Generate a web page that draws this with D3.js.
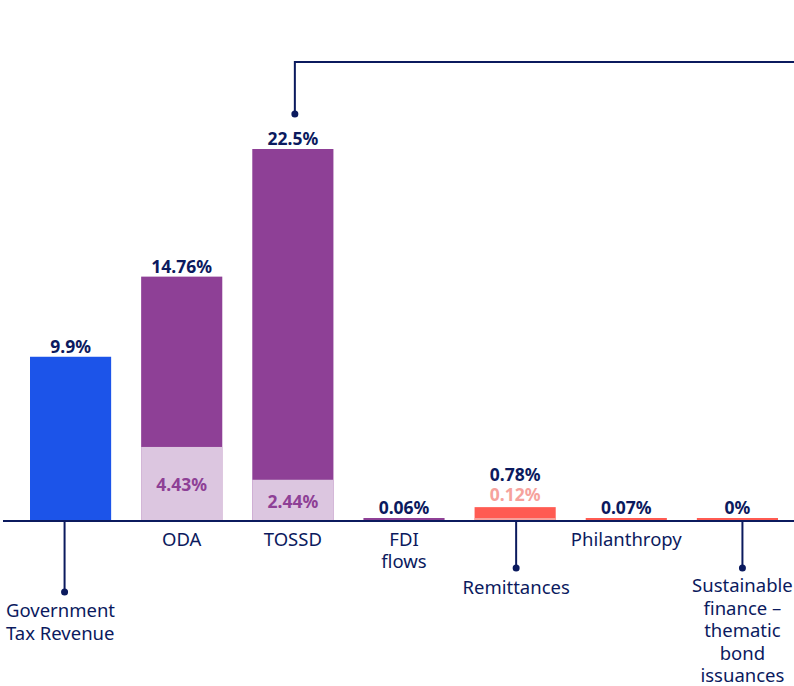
<!DOCTYPE html>
<html>
<head>
<meta charset="utf-8">
<script src="https://cdn.jsdelivr.net/npm/d3@7"></script>
<style>
  body { margin: 0; background: #fff; }
  svg { display: block; font-family: "Noto Sans", "Open Sans", sans-serif; }
</style>
</head>
<body>
<svg id="chart" width="794" height="686"></svg>
<script>
// data (share, %)
var categories = ["Government Tax Revenue", "ODA", "TOSSD", "FDI flows", "Remittances", "Philanthropy", "Sustainable finance – thematic bond issuances"];
var labelLines = [["Government", "Tax Revenue"], ["ODA"], ["TOSSD"], ["FDI", "flows"], ["Remittances"], ["Philanthropy"], ["Sustainable", "finance –", "thematic", "bond", "issuances"]];
var totals = [9.9, 14.76, 22.5, 0.06, 0.78, 0.07, 0];
var subValues = [null, 4.43, 2.44, null, 0.12, null, null];
var totalLabels = ["9.9%", "14.76%", "22.5%", "0.06%", "0.78%", "0.07%", "0%"];
var subLabels = [null, "4.43%", "2.44%", null, "0.12%", null, null];

var navy = "#0b1a5e";
var mainColor = ["#1c54e9", "#8e4096", "#8e4096", "#8e4096", "#ff5b52", "#ff5b52", "#ff5b52"];
var subColor = [null, "#dcc6e0", "#dcc6e0", null, "#f6a29c", null, null];
var subText = [null, "#8e4096", "#8e4096", null, "#f6a29c", null, null];

var svg = d3.select("#chart");
var baseY = 520;

var x = d3.scaleBand()
    .domain(categories)
    .range([15, 793])
    .paddingInner(0.27)
    .paddingOuter(0.135);

var y = d3.scaleLinear().domain([0, 22.5]).range([baseY, 149]);

function barTop(v) {
    // tiny values still get a visible sliver
    return Math.min(y(v), baseY - 2);
}

var rows = categories.map(function(c, i) {
    return {cat: c, total: totals[i], sub: subValues[i], i: i};
});

var g = svg.append("g");

// main bars
g.selectAll("rect.main")
    .data(rows).enter()
    .append("rect")
    .attr("class", "main")
    .attr("x", function(d) { return x(d.cat); })
    .attr("width", x.bandwidth())
    .attr("y", function(d) { return barTop(d.total); })
    .attr("height", function(d) { return baseY - barTop(d.total); })
    .style("fill", function(d) { return mainColor[d.i]; });

// lighter lower segments
var subRows = rows.filter(function(d) { return d.sub != null; });
g.selectAll("rect.sub")
    .data(subRows).enter()
    .append("rect")
    .attr("class", "sub")
    .attr("x", function(d) { return x(d.cat); })
    .attr("width", x.bandwidth())
    .attr("y", function(d) { return y(d.sub); })
    .attr("height", function(d) { return baseY - y(d.sub); })
    .style("fill", function(d) { return subColor[d.i]; });

// sub labels: inside segment when it is tall enough, else above bar
g.selectAll("text.sub")
    .data(subRows).enter()
    .append("text")
    .attr("class", "sub")
    .attr("x", function(d) { return x(d.cat) + x.bandwidth() / 2; })
    .attr("y", function(d) {
        var h = baseY - y(d.sub);
        if (h > 25) return (y(d.sub) + baseY) / 2 + 1;
        return barTop(d.total) - 6;
    })
    .attr("dominant-baseline", function(d) { return (baseY - y(d.sub)) > 25 ? "central" : "auto"; })
    .attr("text-anchor", "middle")
    .style("font-size", "17.5px")
    .style("font-weight", "bold")
    .style("fill", function(d) { return subText[d.i]; })
    .text(function(d) { return subLabels[d.i]; });

// total labels
g.selectAll("text.total")
    .data(rows).enter()
    .append("text")
    .attr("class", "total")
    .attr("x", function(d) { return x(d.cat) + x.bandwidth() / 2; })
    .attr("y", function(d) {
        var top = barTop(d.total);
        var subAbove = d.sub != null && (baseY - y(d.sub)) <= 25;
        return subAbove ? top - 26 : top - 4;
    })
    .attr("text-anchor", "middle")
    .style("font-size", "17.5px")
    .style("font-weight", "bold")
    .style("fill", navy)
    .text(function(d) { return totalLabels[d.i]; });

// axis line
svg.append("line")
    .attr("x1", 3).attr("x2", 794)
    .attr("y1", baseY + 1).attr("y2", baseY + 1)
    .attr("stroke", navy).attr("stroke-width", 2);

// category labels; some hang off a leader line
var leaders = {
    0: {dx: -6, dotY: 592, anchor: "start", textX: 6, firstY: 617},
    4: {dx: 1, dotY: 568, anchor: "middle", firstY: 594},
    6: {dx: 5, dotY: 568, anchor: "middle", firstY: 592}
};

rows.forEach(function(d) {
    var cx = x(d.cat) + x.bandwidth() / 2;
    var lead = leaders[d.i];
    var tx = cx, anchor = "middle", y0 = 546, step = 22;
    if (lead) {
        var lx = cx + lead.dx;
        svg.append("line")
            .attr("x1", lx).attr("x2", lx)
            .attr("y1", baseY + 1).attr("y2", lead.dotY)
            .attr("stroke", navy).attr("stroke-width", 2);
        svg.append("circle")
            .attr("cx", lx).attr("cy", lead.dotY).attr("r", 3.5)
            .style("fill", navy);
        tx = lead.textX != null ? lead.textX : lx;
        anchor = lead.anchor;
        y0 = lead.firstY;
        step = 22.6;
    }
    var t = svg.append("text")
        .attr("text-anchor", anchor)
        .style("font-size", "18.5px")
        .style("fill", navy);
    labelLines[d.i].forEach(function(line, k) {
        t.append("tspan").attr("x", tx).attr("y", y0 + k * step).text(line);
    });
});

// bracket from TOSSD going off to the right
var tx = x("TOSSD") + x.bandwidth() / 2 + 2;
svg.append("path")
    .attr("d", "M" + tx + ",114 V62 H794")
    .attr("fill", "none")
    .attr("stroke", navy).attr("stroke-width", 2);
svg.append("circle")
    .attr("cx", tx).attr("cy", 114).attr("r", 3.5)
    .style("fill", navy);
</script>
</body>
</html>
